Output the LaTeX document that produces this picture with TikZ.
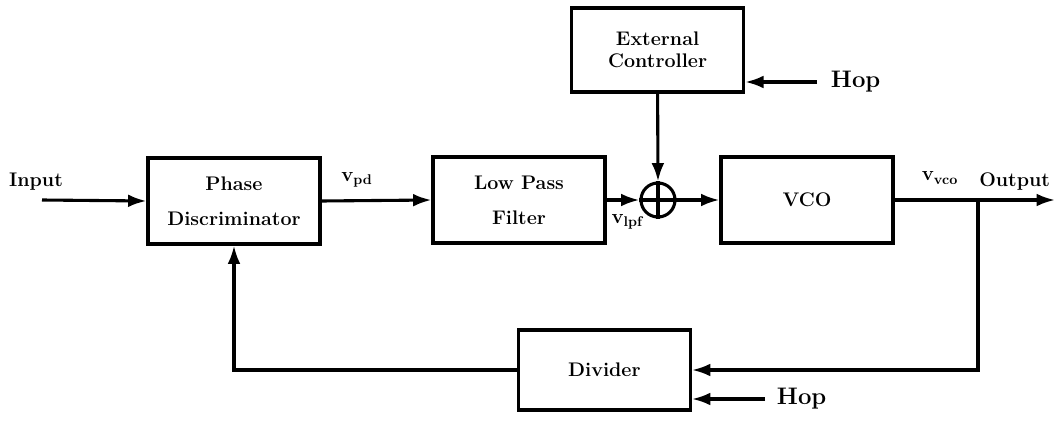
\documentclass[tikz,border=0pt]{standalone}
\usetikzlibrary{arrows.meta}
\begin{document}
\begin{tikzpicture}[
    blk/.style={draw, line width=2.2pt, minimum width=4.3cm, minimum height=2.15cm, align=center, font=\fontsize{14}{25}\selectfont\bfseries},
    lbl/.style={font=\fontsize{14}{16}\selectfont\bfseries},
    hoplbl/.style={font=\fontsize{17}{19}\selectfont\bfseries},
    sig/.style={line width=2.2pt, -{Latex[length=4.6mm,width=3.2mm]}},
    wire/.style={line width=2.2pt}
]
    \useasboundingbox (0,0) rectangle (26.375,10.5);

    % Blocs principaux
    \node[blk] (pd) at (5.85, 5.475) {Phase\\Discriminator};
    \node[blk] (lpf) at (12.975, 5.5) {Low Pass\\Filter};
    \node[blk, minimum height=2.1cm, font=\fontsize{14}{16}\selectfont\bfseries] (ext) at (16.44, 9.25) {External\\Controller};
    \node[blk] (vco) at (20.175, 5.5) {VCO};
    \node[blk, minimum height=2.0cm] (div) at (15.11, 1.25) {Divider};
    \node[draw, circle, line width=2.2pt, minimum size=0.85cm, inner sep=0pt] (sum) at (16.45, 5.5) {};
    \draw[wire] (sum.north) -- (sum.south) (sum.west) -- (sum.east);

    % Entrée et sortie
    \coordinate (in) at (1.05, 5.5);
    \coordinate (out) at (26.375, 5.5);
    \coordinate (br) at (24.45, 5.5);
    \coordinate (fb) at (24.45, 1.25);
    \node[lbl] (inlbl) at (0.9, 5.95) {Input};
    \node[lbl, anchor=east] (outlbl) at (26.375, 5.95) {Output};

    % Signaux
    \draw[sig] (in) -- (pd.west);
    \draw[sig] (pd.east) -- (lpf.west);
    \draw[sig] (lpf.east) -- (sum.west);
    \draw[sig] (ext.south) -- (sum.north);
    \draw[sig] (sum.east) -- (vco.west);
    \draw[sig] (vco.east) -- (out);
    \draw[sig] (br) -- (fb) -- (div.east);
    \draw[sig] (div.west) -| (pd.south);

    \node[lbl] (vpd) at (8.925, 6.0) {$\mathbf{v}_{\mathbf{pd}}$};
    \node[lbl] (vlpf) at (15.7, 4.95) {$\mathbf{v}_{\mathbf{lpf}}$};
    \node[lbl] (vvco) at (23.5, 6.05) {$\mathbf{v}_{\mathbf{vco}}$};

    % Hop
    \coordinate (hopa) at (20.425, 8.45);
    \coordinate (hopb) at (19.125, 0.525);
    \draw[sig] (hopa) -- (ext.east |- hopa);
    \draw[sig] (hopb) -- (div.east |- hopb);
    \node[hoplbl, anchor=west] (hop1) at (20.65, 8.45) {Hop};
    \node[hoplbl, anchor=west] (hop2) at (19.3, 0.525) {Hop};
\end{tikzpicture}
\end{document}
